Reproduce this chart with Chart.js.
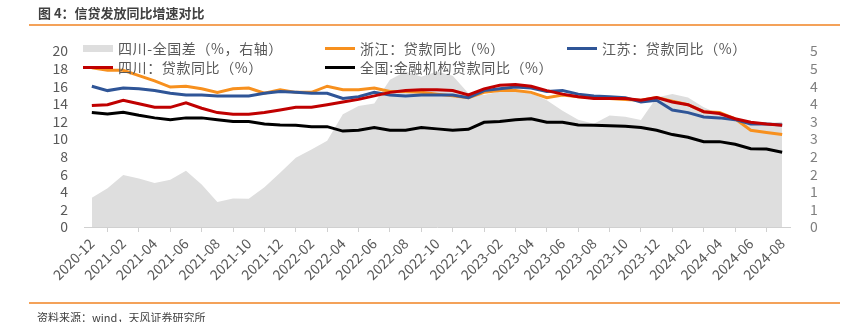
<!DOCTYPE html>
<html>
<head>
<meta charset="utf-8">
<script src="https://cdn.jsdelivr.net/npm/chart.js@4.4.1/dist/chart.umd.min.js"></script>
<style>
  body { margin: 0; background: #fff; }
  #wrap { position: relative; width: 846px; height: 322px; overflow: hidden; font-family: "Noto Sans CJK SC", "Noto Sans", sans-serif; }
  #chart { position: absolute; left: 0; top: 0; }
  .title { position: absolute; left: 38px; top: 5px; font-size: 13px; line-height: 16px; font-weight: bold; color: #404040; }
  .rule { position: absolute; left: 29px; width: 811px; height: 2px; background: #f4a259; }
  .source { position: absolute; left: 37px; top: 310px; font-size: 11px; line-height: 14px; color: #404040; }
  .lg-item { position: absolute; height: 20px; line-height: 20px; font-size: 14px; letter-spacing: 0.6px; color: #595959; white-space: nowrap; }
  .lg-mark { position: absolute; left: 0; width: 30px; }
  .lg-text { position: absolute; left: 35px; top: -1px; }
</style>
</head>
<body>
<div id="wrap">
  <canvas id="chart" width="846" height="322"></canvas>
  <div class="title">图 4：信贷发放同比增速对比</div>
  <div class="rule" style="top:24px"></div>
  <div id="legend"></div>
  <div class="rule" style="top:302px"></div>
  <div class="source">资料来源：wind，天风证券研究所</div>
</div>
<script>
// months, 2020-12 .. 2024-08
const months = [
  '2020-12',
  '2021-01','2021-02','2021-03','2021-04','2021-05','2021-06','2021-07','2021-08','2021-09','2021-10','2021-11','2021-12',
  '2022-01','2022-02','2022-03','2022-04','2022-05','2022-06','2022-07','2022-08','2022-09','2022-10','2022-11','2022-12',
  '2023-01','2023-02','2023-03','2023-04','2023-05','2023-06','2023-07','2023-08','2023-09','2023-10','2023-11','2023-12',
  '2024-01','2024-02','2024-03','2024-04','2024-05','2024-06','2024-07','2024-08'
];

// 四川-全国差 (right axis)
const sichuanGap = [
  0.83, 1.10, 1.48, 1.38, 1.25, 1.34, 1.60, 1.21, 0.71, 0.81, 0.80, 1.13, 1.54,
  1.97, 2.20, 2.45, 3.20, 3.44, 3.51, 4.18, 4.42, 4.27, 4.42, 4.30, 3.80,
  3.75, 3.85, 3.90, 3.80, 3.60, 3.30, 3.05, 2.93, 3.17, 3.13, 3.04, 3.68,
  3.78, 3.68, 3.40, 3.21, 3.09, 2.90, 2.95, 2.99
];

// 浙江：贷款同比
const zhejiang = [
  18.1, 17.8, 17.8, 17.2, 16.6, 15.9, 16.0, 15.7, 15.3, 15.7, 15.8, 15.2, 15.6,
  15.3, 15.3, 16.0, 15.6, 15.6, 15.8, 15.4, 15.4, 15.3, 15.1, 14.9, 14.7,
  15.3, 15.5, 15.5, 15.3, 14.7, 15.0, 14.8, 14.7, 14.6, 14.5, 14.4, 14.7,
  14.3, 13.9, 13.1, 13.0, 12.3, 11.0, 10.75, 10.5
];

// 江苏：贷款同比
const jiangsu = [
  16.0, 15.5, 15.8, 15.7, 15.5, 15.2, 15.0, 15.0, 14.9, 14.9, 14.9, 15.2, 15.4,
  15.3, 15.2, 15.2, 14.6, 14.8, 15.3, 15.0, 14.9, 15.0, 15.0, 15.0, 14.7,
  15.5, 15.7, 15.9, 15.8, 15.4, 15.5, 15.1, 14.9, 14.8, 14.7, 14.2, 14.4,
  13.3, 13.0, 12.5, 12.4, 12.2, 11.7, 11.7, 11.6
];

// 四川：贷款同比
const sichuan = [
  13.8, 13.9, 14.4, 14.0, 13.6, 13.6, 14.1, 13.5, 13.0, 12.8, 12.8, 13.0, 13.3,
  13.6, 13.6, 13.9, 14.2, 14.5, 14.9, 15.3, 15.5, 15.6, 15.6, 15.5, 15.0,
  15.7, 16.1, 16.2, 16.0, 15.5, 15.1, 14.8, 14.6, 14.6, 14.6, 14.4, 14.7,
  14.2, 13.9, 13.1, 12.9, 12.3, 11.9, 11.7, 11.55
];

// 全国:金融机构贷款同比
const national = [
  13.0, 12.85, 13.05, 12.7, 12.4, 12.2, 12.4, 12.4, 12.2, 12.0, 12.0, 11.7, 11.6,
  11.55, 11.4, 11.4, 10.9, 11.0, 11.3, 11.0, 11.0, 11.3, 11.15, 11.0, 11.1,
  11.9, 12.0, 12.2, 12.3, 11.9, 11.9, 11.6, 11.55, 11.5, 11.45, 11.3, 11.0,
  10.5, 10.2, 9.7, 9.7, 9.4, 8.9, 8.85, 8.5
];

// right axis labels as printed (0.5 steps rounded)
const rightTickLabels = ['0', '1', '1', '2', '2', '3', '3', '4', '4', '5', '5'];

// legend marker positions (left x, centre y)
const legendSlots = [
  { x: 83, y: 49 },
  { x: 325, y: 49 },
  { x: 567, y: 49 },
  { x: 83, y: 68 },
  { x: 325, y: 68 }
];

const tickFont = { family: '"Noto Sans CJK SC", sans-serif', size: 14 };

function lineSet(label, data, color, order) {
  return {
    label: label,
    data: data,
    borderColor: color,
    backgroundColor: color,
    borderWidth: 3,
    pointRadius: 0,
    tension: 0,
    fill: false,
    yAxisID: 'y',
    order: order
  };
}

const htmlLegend = {
  id: 'htmlLegend',
  afterUpdate(chart) {
    const box = document.getElementById('legend');
    box.innerHTML = '';
    chart.data.datasets.forEach((ds, i) => {
      const slot = legendSlots[i];
      const item = document.createElement('div');
      item.className = 'lg-item';
      item.style.left = slot.x + 'px';
      item.style.top = (slot.y - 10) + 'px';
      const mark = document.createElement('div');
      mark.className = 'lg-mark';
      if (ds.fill) {
        mark.style.height = '7px';
        mark.style.top = '6px';
        mark.style.background = ds.backgroundColor;
      } else {
        mark.style.height = '3px';
        mark.style.top = '8px';
        mark.style.background = ds.borderColor;
      }
      const text = document.createElement('span');
      text.className = 'lg-text';
      text.textContent = ds.label;
      item.appendChild(mark);
      item.appendChild(text);
      box.appendChild(item);
    });
  }
};

new Chart(document.getElementById('chart'), {
  type: 'line',
  data: {
    labels: months,
    datasets: [
      {
        label: '四川-全国差（%，右轴）',
        data: sichuanGap,
        borderWidth: 0,
        borderColor: 'rgba(0,0,0,0)',
        backgroundColor: '#dedede',
        pointRadius: 0,
        tension: 0,
        fill: 'origin',
        yAxisID: 'y1',
        order: 10
      },
      lineSet('浙江：贷款同比（%）', zhejiang, '#f7901e', 4),
      lineSet('江苏：贷款同比（%）', jiangsu, '#2f5597', 3),
      lineSet('四川：贷款同比（%）', sichuan, '#c00000', 1),
      lineSet('全国:金融机构贷款同比（%）', national, '#000000', 2)
    ]
  },
  options: {
    responsive: false,
    animation: false,
    devicePixelRatio: 1,
    layout: { padding: { top: 51, left: 0, right: 0, bottom: 0 } },
    plugins: {
      legend: { display: false },
      tooltip: { enabled: false }
    },
    scales: {
      x: {
        offset: true,
        grid: {
          display: true,
          offset: true,
          drawOnChartArea: false,
          drawTicks: true,
          tickLength: 5,
          color: '#d0d0d0'
        },
        border: { display: true, color: '#d0d0d0', width: 1 },
        ticks: {
          autoSkip: false,
          minRotation: 45,
          maxRotation: 45,
          padding: 3,
          color: '#595959',
          font: tickFont,
          callback: function(value, index) {
            return index % 2 === 0 ? this.getLabelForValue(value) : null;
          }
        },
        afterFit: function(scale) { scale.height = 95; }
      },
      y: {
        position: 'left',
        min: 0,
        max: 20,
        grid: { display: false },
        border: { display: false },
        ticks: { stepSize: 2, autoSkip: false, padding: 8, color: '#595959', font: tickFont },
        afterFit: function(scale) { scale.width = 84; }
      },
      y1: {
        position: 'right',
        min: 0,
        max: 5,
        grid: { display: false },
        border: { display: false },
        ticks: {
          stepSize: 0.5,
          autoSkip: false,
          padding: 12,
          color: '#7f7f7f',
          font: tickFont,
          callback: function(value, index) { return rightTickLabels[index]; }
        },
        afterFit: function(scale) { scale.width = 56; }
      }
    }
  },
  plugins: [htmlLegend]
});
</script>
</body>
</html>
